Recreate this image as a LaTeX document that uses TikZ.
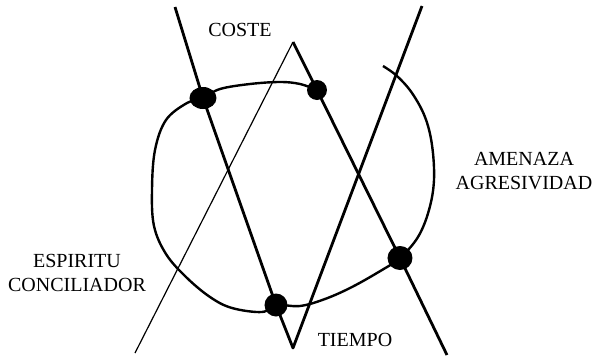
\documentclass[tikz,border=0pt]{standalone}
\usepackage{fontspec}
\setmainfont{Liberation Serif}
\usetikzlibrary{shapes.geometric}

\tikzset{
    punto/.style={fill=black, ellipse, inner sep=0pt},
    recta/.style={line width=1.4pt, line join=round},
    fina/.style={line width=0.6pt},
    rueda/.style={line width=1.2pt},
    rotulo/.style={align=center, inner sep=0pt}
}

\begin{document}
\begin{tikzpicture}[x=0.5pt, y=-0.5pt]
    \useasboundingbox (0,0) rectangle (602,360);
    % the four points on the ring
    \node[punto, minimum width=13.5pt, minimum height=11pt] (no) at (203,98) {};
    \node[punto, minimum width=10pt, minimum height=10pt] (ne) at (317,90) {};
    \node[punto, minimum width=12.5pt, minimum height=12pt] (se) at (400,258) {};
    \node[punto, minimum width=11.5pt, minimum height=11.5pt] (so) at (276,305) {};
    % free ends and corners
    \coordinate (arribaI) at (175,7);
    \coordinate (arribaD) at (422,6);
    \coordinate (abajo) at (293,348);
    \coordinate (cima) at (293,42);
    \coordinate (pieI) at (135,353);
    \coordinate (pieD) at (447,355);
    % the ring
    \draw[rueda] plot[smooth, tension=0.6] coordinates {
        (ne.center) (300,84) (280,82) (250,84) (220,89) (no.center)
        (187,103) (166,120) (155,150) (152,190) (154,226) (166,254)
        (186,277) (210,297) (232,308) (262,312) (so.center) (300,306)
        (325,299) (352,287) (382,270) (se.center) (418,237) (429,210)
        (434,180) (432,145) (425,117) (412,93) (397,76) (383,66)};
    % the lines
    \draw[recta] (arribaI) -- (no.center) -- (so.center) -- (abajo) -- (arribaD);
    \draw[fina] (pieI) -- (cima);
    \draw[recta] (cima) -- (ne.center) -- (se.center) -- (pieD);
    % labels
    \node[rotulo] (coste) at (240,30) {COSTE};
    \node[rotulo] (amenaza) at (524,171) {AMENAZA\\AGRESIVIDAD};
    \node[rotulo] (espiritu) at (77,273) {ESPIRITU\\CONCILIADOR};
    \node[rotulo] (tiempo) at (355,340) {TIEMPO};
\end{tikzpicture}
\end{document}
